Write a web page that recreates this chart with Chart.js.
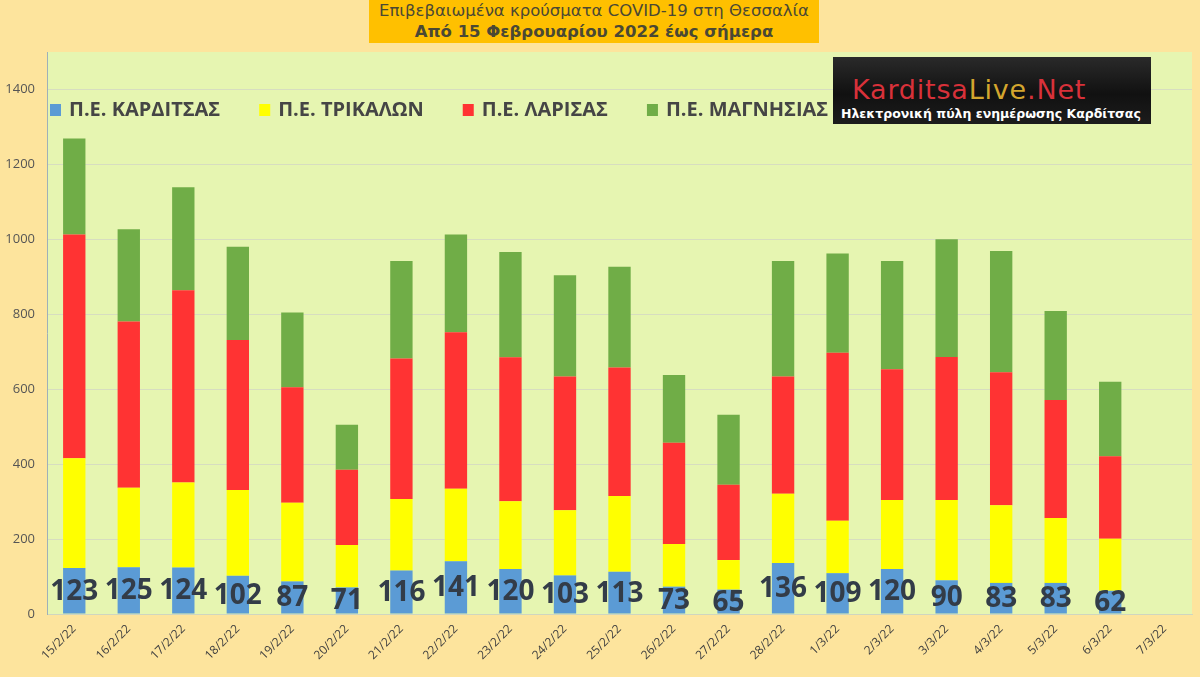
<!DOCTYPE html>
<html>
<head>
<meta charset="utf-8">
<script src="https://cdn.jsdelivr.net/npm/chart.js@4"></script>
<style>
  html, body { margin: 0; padding: 0; background: #FDE49D; }
  #wrap { position: relative; width: 1200px; height: 677px; overflow: hidden; }
  #title {
    position: absolute; left: 369px; top: 0; width: 450px; height: 43px;
    background: #FFC000; text-align: center; color: #4A4834;
    font-family: "DejaVu Sans", sans-serif; font-size: 16.5px; line-height: 21px; padding-top: 0px; box-sizing: border-box;
    white-space: nowrap;
  }
  #title b { font-weight: bold; }
  #logo {
    position: absolute; left: 833px; top: 57px; width: 318px; height: 67px;
    background: linear-gradient(180deg, #2a2a2a 0%, #111 55%, #1c1c1c 100%);
    font-family: "DejaVu Sans", sans-serif;
  }
  #logo .brand { position: absolute; left: 19px; top: 18px; font-size: 27px; line-height: 30px; letter-spacing: 0.8px; white-space: nowrap; }
  #logo .sub { position: absolute; left: 8px; top: 50px; font-weight: bold; font-size: 12.5px; line-height: 14px; color: #fff; white-space: nowrap; }
</style>
</head>
<body>
<div id="wrap">
  <canvas id="casesChart"></canvas>
  <div id="title">Επιβεβαιωμένα κρούσματα COVID-19 στη Θεσσαλία<br><b>Από 15 Φεβρουαρίου 2022 έως σήμερα</b></div>
  <div id="logo">
    <div class="brand"><span style="color:#D8313A">Karditsa</span><span style="color:#D4A62E">Live</span><span style="color:#D8313A">.Net</span></div>
    <div class="sub">Ηλεκτρονική πύλη ενημέρωσης Καρδίτσας</div>
  </div>
</div>
<script>
// dates shown on the x axis
const dates = ['15/2/22', '16/2/22', '17/2/22', '18/2/22', '19/2/22', '20/2/22', '21/2/22',
  '22/2/22', '23/2/22', '24/2/22', '25/2/22', '26/2/22', '27/2/22', '28/2/22', '1/3/22',
  '2/3/22', '3/3/22', '4/3/22', '5/3/22', '6/3/22', '7/3/22'];

const seriesNames = ['Π.Ε. ΚΑΡΔΙΤΣΑΣ', 'Π.Ε. ΤΡΙΚΑΛΩΝ', 'Π.Ε. ΛΑΡΙΣΑΣ', 'Π.Ε. ΜΑΓΝΗΣΙΑΣ'];
const seriesColors = ['#5B9BD5', '#FFFF00', '#FF3333', '#70AD47'];

const karditsa = [123, 125, 124, 102, 87, 71, 116, 141, 120, 103, 113, 73, 65, 136, 109, 120, 90, 83, 83, 62, null];
const trikala  = [293, 212, 227, 229, 210, 113, 191, 193, 181, 174, 202, 114, 79, 185, 140, 184, 214, 207, 173, 139, null];
const larisa   = [597, 444, 513, 400, 308, 201, 375, 418, 384, 357, 343, 270, 201, 313, 448, 349, 382, 355, 315, 220, null];
const magnisia = [256, 246, 275, 249, 200, 120, 260, 261, 281, 270, 269, 181, 187, 308, 265, 289, 314, 324, 238, 199, null];

const yTicks = [0, 200, 400, 600, 800, 1000, 1200, 1400];

// plot background
const plotBackground = {
    id: 'plotBackground',
    beforeDraw(chart) {
        const { ctx, chartArea } = chart;
        ctx.save();
        ctx.fillStyle = '#E6F5B1';
        ctx.fillRect(chartArea.left, chartArea.top, chartArea.right - chartArea.left, chartArea.bottom - chartArea.top);
        ctx.restore();
    }
};

// legend sits inside the plot area
const innerLegend = {
    id: 'innerLegend',
    afterDatasetsDraw(chart) {
        const ctx = chart.ctx;
        let x = chart.chartArea.left + 3;
        const y = 110;
        ctx.save();
        ctx.font = 'bold 20px "Open Sans", sans-serif';
        ctx.textBaseline = 'middle';
        chart.data.datasets.forEach(ds => {
            ctx.fillStyle = ds.backgroundColor;
            ctx.fillRect(x, y - 6, 11, 12);
            ctx.fillStyle = '#454545';
            ctx.fillText(ds.label, x + 19, y);
            x += 19 + ctx.measureText(ds.label).width + 39;
        });
        ctx.restore();
    }
};

// values of the first series, centred in its segment
const bottomLabels = {
    id: 'bottomLabels',
    afterDatasetsDraw(chart) {
        const ctx = chart.ctx;
        const meta = chart.getDatasetMeta(0);
        ctx.save();
        ctx.font = 'bold 28px "Open Sans", sans-serif';
        ctx.fillStyle = '#333C48';
        ctx.textAlign = 'center';
        ctx.textBaseline = 'middle';
        meta.data.forEach((bar, i) => {
            const v = karditsa[i];
            if (v === null) return;
            ctx.fillText(String(v), bar.x, (bar.y + bar.base) / 2 + 1);
        });
        ctx.restore();
    }
};

const ctx = document.getElementById('casesChart').getContext('2d');
const allSeries = [karditsa, trikala, larisa, magnisia];

new Chart(ctx, {
    type: 'bar',
    data: {
        labels: dates,
        datasets: allSeries.map((data, i) => ({
            label: seriesNames[i],
            data: data,
            backgroundColor: seriesColors[i],
            borderWidth: 0,
            categoryPercentage: 1,
            barPercentage: 0.41
        }))
    },
    options: {
        responsive: true,
        maintainAspectRatio: false,
        animation: false,
        layout: {
            padding: { top: 52, right: 8, left: 0, bottom: 0 }
        },
        plugins: {
            legend: { display: false },
            tooltip: { enabled: false }
        },
        scales: {
            x: {
                stacked: true,
                grid: { display: false, drawTicks: false },
                border: { color: '#CFD6C0' },
                ticks: {
                    color: '#404040',
                    font: { family: '"Open Sans", sans-serif', size: 12 },
                    minRotation: 45,
                    maxRotation: 45,
                    padding: 8,
                    autoSkip: false
                },
                afterFit(scale) { scale.height = 63; }
            },
            y: {
                stacked: true,
                min: 0,
                max: 1500,
                afterBuildTicks(scale) {
                    scale.ticks = yTicks.map(v => ({ value: v }));
                },
                grid: { color: '#D7DDC0', drawTicks: false },
                border: { color: '#9FB0B8' },
                ticks: {
                    color: '#555',
                    font: { family: '"Open Sans", sans-serif', size: 13 },
                    padding: 12,
                    callback: v => String(v)
                },
                afterFit(scale) { scale.width = 47; }
            }
        }
    },
    plugins: [plotBackground, innerLegend, bottomLabels]
});
</script>
</body>
</html>
